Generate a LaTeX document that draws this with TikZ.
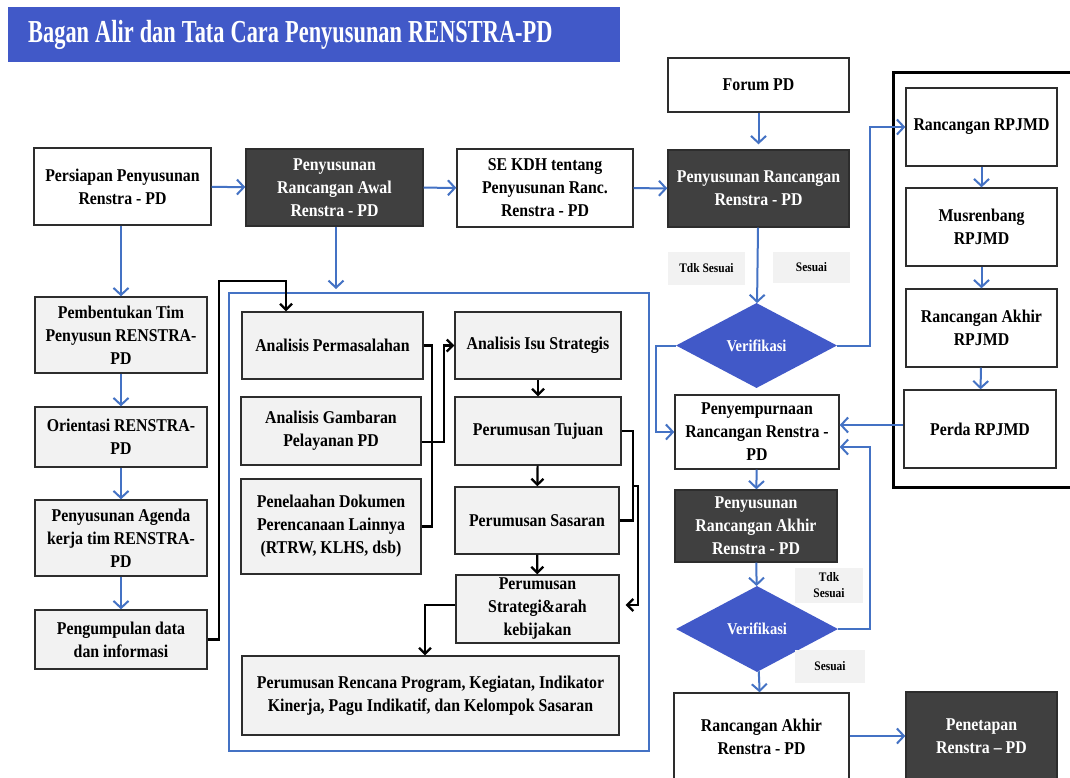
\documentclass[tikz,border=0pt]{standalone}
\usepackage{fontspec}
\setmainfont{Liberation Serif}[FakeStretch=0.88]
\newfontfamily\headfont{Liberation Serif}[FakeStretch=0.7]
\usetikzlibrary{arrows.meta,shapes.geometric}
\definecolor{barblue}{RGB}{65,89,200}
\definecolor{lineblue}{RGB}{68,114,196}
\definecolor{darkfill}{RGB}{64,64,64}
\definecolor{lightfill}{RGB}{242,242,242}
\definecolor{edgegray}{RGB}{45,45,45}

\begin{document}
\begin{tikzpicture}[
  x=1pt, y=-1pt,
  font=\fontsize{18}{23}\selectfont\bfseries,
  box/.style={draw=edgegray, line width=1.4pt, fill=white, align=center, inner sep=2pt},
  dbox/.style={box, fill=darkfill, text=white},
  gbox/.style={box, fill=lightfill},
  tag/.style={fill=lightfill, align=center, inner sep=1pt, font=\fontsize{13}{16}\selectfont\bfseries},
  dec/.style={diamond, fill=barblue, text=white, inner sep=0pt, font=\fontsize{16.5}{20}\selectfont\bfseries},
  arr/.style={-{Straight Barb[length=7pt,width=15pt]}, draw=lineblue, line width=2pt},
  barr/.style={-{Straight Barb[length=6pt,width=12pt]}, line width=2.2pt},
  bline/.style={line width=2.2pt}
]
\useasboundingbox[fill=white] (0,0) rectangle (1070,777);

\node[fill=barblue, text=white, anchor=north west, minimum width=612, minimum height=55,
  text width=572, inner xsep=20, align=left,
  font=\headfont\fontsize{32}{36}\selectfont\bfseries] (title) at (8,7) {\spaceskip=6pt Bagan Alir dan Tata Cara Penyusunan RENSTRA-PD};

\node[draw=lineblue, line width=1.8pt, anchor=north west, minimum width=420, minimum height=458] (grp) at (228,292) {};
\node[draw=black, line width=2.5pt, anchor=north west, minimum width=200, minimum height=415] (rpjmdgrp) at (892,71) {};

\node[box, minimum width=177, minimum height=77] (persiapan) at (122.5,186.5) {Persiapan Penyusunan\\Renstra - PD};
\node[dbox, minimum width=177, minimum height=77] (awal) at (334.5,187.5) {Penyusunan\\Rancangan Awal\\Renstra - PD};
\node[box, minimum width=176, minimum height=78] (sekdh) at (545,188) {SE KDH tentang\\Penyusunan Ranc.\\Renstra - PD};
\node[box, minimum width=181, minimum height=54] (forum) at (758.5,85) {Forum PD};
\node[dbox, minimum width=181, minimum height=77] (rancangan) at (758.5,188.5) {Penyusunan Rancangan\\Renstra - PD};

\node[tag, minimum width=77, minimum height=33] (tdk1) at (706.5,268.5) {Tdk Sesuai};
\node[tag, minimum width=77, minimum height=31] (ses1) at (811.5,267.5) {Sesuai};
\node[dec, minimum width=161, minimum height=85] (verif1) at (756.5,345.5) {Verifikasi};
\node[box, minimum width=164, minimum height=74] (sempurna) at (757,432) {Penyempurnaan\\Rancangan Renstra -\\PD};
\node[dbox, minimum width=162, minimum height=72] (akhir) at (756,526) {Penyusunan\\Rancangan Akhir\\Renstra - PD};
\node[tag, minimum width=68, minimum height=35] (tdk2) at (829,585.5) {Tdk\\Sesuai};
\node[dec, minimum width=162, minimum height=86] (verif2) at (757,629) {Verifikasi};
\node[tag, minimum width=70, minimum height=33] (ses2) at (830,666.5) {Sesuai};
\node[box, minimum width=175, minimum height=88] (rakhir) at (761.5,737) {Rancangan Akhir\\Renstra - PD};
\node[dbox, minimum width=151, minimum height=88] (penetapan) at (981.5,736) {Penetapan\\Renstra – PD};

\node[box, minimum width=151, minimum height=78] (rpjmd) at (981.5,127) {Rancangan RPJMD};
\node[box, minimum width=151, minimum height=78] (musren) at (981.5,227) {Musrenbang\\RPJMD};
\node[box, minimum width=151, minimum height=78] (akhirrpjmd) at (981.5,328) {Rancangan Akhir\\RPJMD};
\node[box, minimum width=152, minimum height=78] (perda) at (980,429) {Perda RPJMD};

\node[gbox, minimum width=172, minimum height=76] (timtim) at (121,335) {Pembentukan Tim\\Penyusun RENSTRA-\\PD};
\node[gbox, minimum width=172, minimum height=60] (orientasi) at (121,437) {Orientasi RENSTRA-\\PD};
\node[gbox, minimum width=172, minimum height=76] (agenda) at (121,538) {Penyusunan Agenda\\kerja tim RENSTRA-\\PD};
\node[gbox, minimum width=172, minimum height=59] (datainfo) at (121,639.5) {Pengumpulan data\\dan informasi};

\node[gbox, minimum width=181, minimum height=67] (masalah) at (332.5,345.5) {Analisis Permasalahan};
\node[gbox, minimum width=180, minimum height=68] (gambaran) at (331,431) {Analisis Gambaran\\Pelayanan PD};
\node[gbox, minimum width=180, minimum height=95] (telaah) at (331,526.5) {Penelaahan Dokumen\\Perencanaan Lainnya\\(RTRW, KLHS, dsb)};
\node[gbox, minimum width=166, minimum height=67] (isu) at (538,345.5) {Analisis Isu Strategis};
\node[gbox, minimum width=166, minimum height=68] (tujuan) at (538,431) {Perumusan Tujuan};
\node[gbox, minimum width=164, minimum height=67] (sasaran) at (537,520.5) {Perumusan Sasaran};
\node[gbox, minimum width=163, minimum height=68] (strategi) at (537.5,609) {Perumusan\\Strategi\&arah\\kebijakan};
\node[gbox, minimum width=377, minimum height=79] (rencana) at (430.5,695.5) {Perumusan Rencana Program, Kegiatan, Indikator\\Kinerja, Pagu Indikatif, dan Kelompok Sasaran};

\draw[arr] (persiapan) -- (awal);
\draw[arr] (awal) -- (sekdh);
\draw[arr] (sekdh) -- (rancangan);
\draw[arr, shorten >=5pt] (forum) -- (rancangan);
\draw[arr] (rancangan) -- (verif1);
\draw[arr] (verif1.east) -- ++(33,0) |- (rpjmd.west);
\draw[arr] (verif1.west) -- ++(-20,0) |- (sempurna.west);
\draw[arr] (rpjmd) -- (musren);
\draw[arr] (musren) -- (akhirrpjmd);
\draw[arr] (akhirrpjmd) -- (perda);
\draw[arr] ([yshift=4]perda.west) -- ([yshift=7]sempurna.east);
\draw[arr] (verif2.east) -- ++(32,0) |- ([yshift=-15]sempurna.east);
\draw[arr] (sempurna) -- (akhir);
\draw[arr] (akhir) -- (verif2);
\draw[arr] (verif2) -- (rakhir);
\draw[arr] (rakhir.east |- penetapan.west) -- (penetapan.west);
\draw[arr] (persiapan.south -| timtim) -- (timtim);
\draw[arr] (timtim) -- (orientasi);
\draw[arr] (orientasi) -- (agenda);
\draw[arr] (agenda) -- (datainfo);
\draw[arr, shorten >=3pt] ([xshift=1.5]awal.south) -- ([xshift=1.5]awal.south |- grp.north);

\draw[barr] (datainfo.east) -- ++(11,0) |- ([xshift=-46.5, yshift=30]masalah.north) -- ([xshift=-46.5]masalah.north);
\draw[bline] (masalah.east) -- ++(8,0) |- (telaah.east);
\draw[barr] ([yshift=-11]gambaran.east) -- ++(22,0) |- (isu.west);
\draw[barr] (isu) -- (tujuan);
\draw[barr] (tujuan) -- (sasaran);
\draw[barr] (sasaran) -- (strategi);
\draw[bline] (tujuan.east) -- ++(11,0) coordinate (tjs) |- (sasaran.east);
\draw[barr, shorten >=6pt] (tjs |- sasaran.north) -- ++(5,0) |- ([yshift=4]strategi.east);
\draw[barr] ([yshift=4]strategi.west) -| ([xshift=-5.5]rencana.north);
\end{tikzpicture}
\end{document}
